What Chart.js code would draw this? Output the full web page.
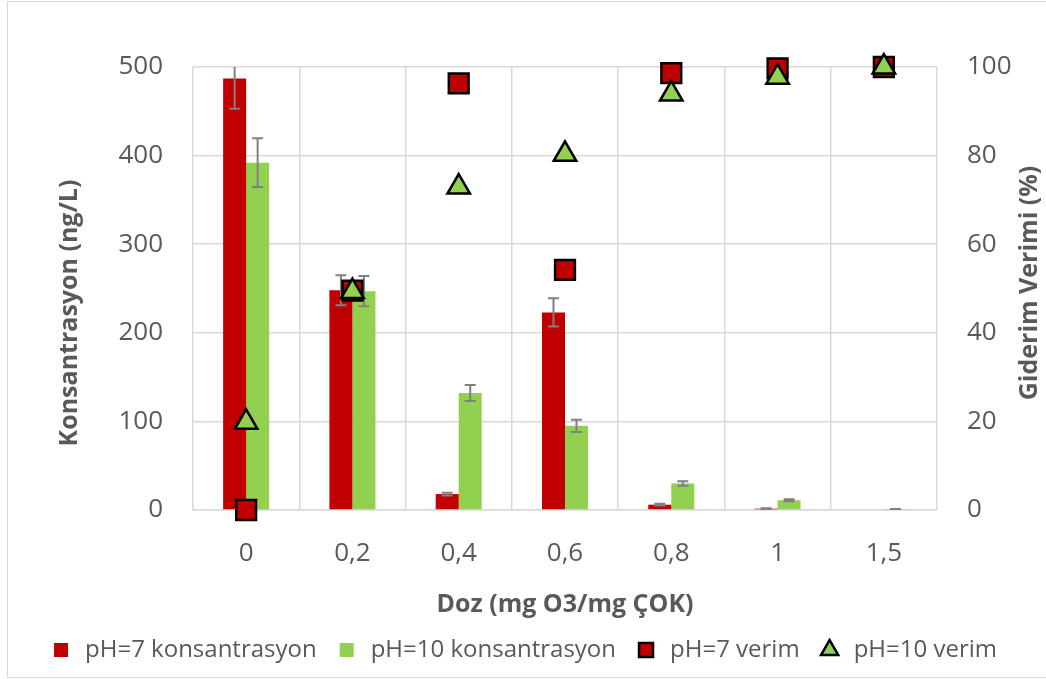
<!DOCTYPE html>
<html><head><meta charset="utf-8">
<script src="https://cdn.jsdelivr.net/npm/chart.js@4.4.1/dist/chart.umd.min.js"></script>
<style>
html,body{margin:0;padding:0;background:#fff;}
#wrap{position:relative;width:1046px;height:679px;overflow:hidden;}
#frame{position:absolute;left:7px;top:1px;width:1060px;height:677px;border:1.5px solid #D9D9D9;box-sizing:border-box;pointer-events:none;}
canvas{position:absolute;left:0;top:0;}
</style></head><body>
<div id="wrap"><canvas id="c" width="1046" height="679"></canvas><div id="frame"></div></div>
<script>
const categories = ['0', '0,2', '0,4', '0,6', '0,8', '1', '1,5'];
const ph7Conc = [487, 248, 18, 223, 6, 1.5, 0];
const ph7ConcErr = [34, 17, 1.5, 16, 1, 0.5, 0];
const ph10Conc = [392, 247, 132, 95, 30, 11, 0.5];
const ph10ConcErr = [27.5, 17, 9, 7, 2.5, 1, 0.5];
const ph7Eff = [0, 49.5, 96.3, 54.2, 98.6, 99.7, 100];
const ph10Eff = [19.8, 49.3, 72.9, 80.3, 93.9, 97.7, 100];
const seriesNames = ['pH=7 konsantrasyon', 'pH=10 konsantrasyon', 'pH=7 verim', 'pH=10 verim'];
const xTitle = 'Doz (mg O3/mg ÇOK)';
const yTitle = 'Konsantrasyon (ng/L)';
const y1Title = 'Giderim Verimi (%)';

const RED = '#C00000', GREEN = '#92D050', TXT = '#595959', GRID = '#D9D9D9';
Chart.defaults.font.family = "'Open Sans', sans-serif";
Chart.defaults.color = TXT;

const errorBars = {
  id: 'errorBars',
  afterDatasetDraw(chart, args) {
    const ds = chart.data.datasets[args.index];
    if (!ds.errors) return;
    const {ctx, chartArea, scales: {y}} = chart;
    ctx.save();
    ctx.beginPath();
    ctx.rect(chartArea.left, chartArea.top, chartArea.right - chartArea.left, chartArea.bottom - chartArea.top);
    ctx.clip();
    ctx.strokeStyle = '#808080';
    ctx.lineWidth = 2;
    args.meta.data.forEach((bar, i) => {
      const v = ds.data[i], e = ds.errors[i];
      if (!e) return;
      const yt = y.getPixelForValue(v + e), yb = y.getPixelForValue(v - e);
      const x = bar.x, hw = 5.5;
      ctx.beginPath();
      ctx.moveTo(x, yt); ctx.lineTo(x, yb);
      ctx.moveTo(x - hw, yt); ctx.lineTo(x + hw, yt);
      ctx.moveTo(x - hw, yb); ctx.lineTo(x + hw, yb);
      ctx.stroke();
    });
    ctx.restore();
  }
};

const sideTitles = {
  id: 'sideTitles',
  afterDraw(chart) {
    const {ctx} = chart;
    ctx.save();
    ctx.fillStyle = TXT;
    ctx.font = "bold 25px 'Open Sans', sans-serif";
    ctx.textAlign = 'center';
    ctx.textBaseline = 'middle';
    ctx.translate(70, 313); ctx.rotate(-Math.PI / 2); ctx.fillText(yTitle, 0, 0);
    ctx.restore();
    ctx.save();
    ctx.fillStyle = TXT;
    ctx.font = "bold 25px 'Open Sans', sans-serif";
    ctx.textAlign = 'center';
    ctx.textBaseline = 'middle';
    ctx.translate(1030, 283); ctx.rotate(-Math.PI / 2); ctx.fillText(y1Title, 0, 0);
    ctx.restore();
  }
};

new Chart(document.getElementById('c'), {
  data: {
    labels: categories,
    datasets: [
      {type: 'bar', label: seriesNames[0], data: ph7Conc, errors: ph7ConcErr, backgroundColor: RED, borderColor: RED, borderWidth: 0, pointStyle: 'rect', yAxisID: 'y', order: 2, categoryPercentage: 0.433, barPercentage: 1},
      {type: 'bar', label: seriesNames[1], data: ph10Conc, errors: ph10ConcErr, backgroundColor: GREEN, borderColor: GREEN, borderWidth: 0, pointStyle: 'rect', yAxisID: 'y', order: 2, categoryPercentage: 0.433, barPercentage: 1},
      {type: 'line', label: seriesNames[2], data: ph7Eff, showLine: false, yAxisID: 'y1', order: 1, clip: false, pointStyle: 'rect', pointRadius: 14, pointHoverRadius: 14, pointBackgroundColor: RED, pointBorderColor: '#000', pointBorderWidth: 2.5, backgroundColor: RED, borderColor: '#000'},
      {type: 'line', label: seriesNames[3], data: ph10Eff, showLine: false, yAxisID: 'y1', order: 0, clip: false, pointStyle: 'triangle', pointRadius: 13, pointHoverRadius: 13, pointBackgroundColor: GREEN, pointBorderColor: '#000', pointBorderWidth: 2.5, backgroundColor: GREEN, borderColor: '#000'}
    ]
  },
  options: {
    responsive: false,
    animation: false,
    layout: {padding: {top: 67, bottom: 7, left: 0, right: 0}},
    plugins: {
      tooltip: {enabled: false},
      legend: {
        position: 'bottom',
        labels: {
          usePointStyle: true, boxHeight: 14, padding: 18,
          font: {size: 24}, color: TXT,
          sort: (a, b) => a.datasetIndex - b.datasetIndex
        }
      }
    },
    scales: {
      x: {
        offset: true,
        grid: {color: GRID, lineWidth: 1.5, offset: true, drawTicks: false},
        border: {display: true, color: GRID, width: 1.5},
        ticks: {font: {size: 26}, color: TXT, padding: 28, maxRotation: 0},
        title: {display: true, text: xTitle, font: {size: 25, weight: 'bold'}, color: TXT, padding: {top: 0, bottom: 0}},
        afterFit(s) { s.height = 110; }
      },
      y: {
        position: 'left', min: 0, max: 500,
        ticks: {stepSize: 100, font: {size: 26}, color: TXT, padding: 30},
        grid: {color: GRID, lineWidth: 1.5, drawTicks: false},
        border: {display: false},
        afterFit(s) { s.width = 193; }
      },
      y1: {
        position: 'right', min: 0, max: 100,
        ticks: {stepSize: 20, font: {size: 26}, color: TXT, padding: 30},
        grid: {display: false, drawTicks: false},
        border: {display: false},
        afterFit(s) { s.width = 109; }
      }
    }
  },
  plugins: [errorBars, sideTitles]
});
</script>
</body></html>
